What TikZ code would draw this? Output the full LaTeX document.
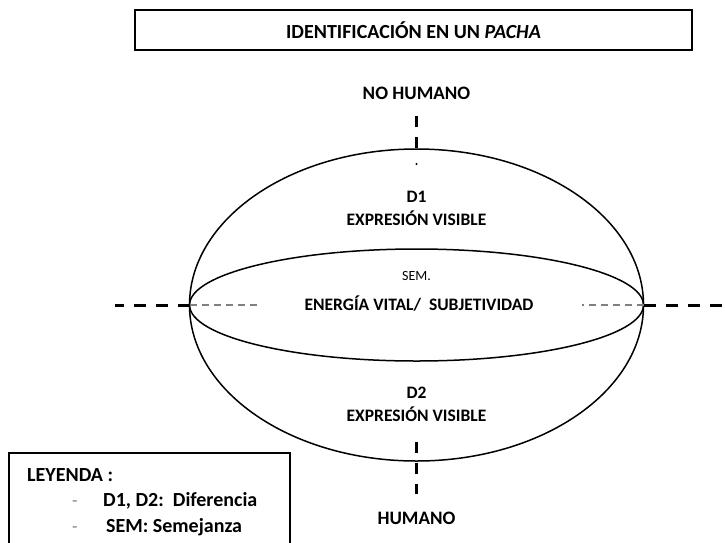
\documentclass[tikz,border=0pt]{standalone}
\usepackage{fontspec}
\setmainfont{Carlito}
\begin{document}
\begin{tikzpicture}[x=1pt,y=-1pt,
  lbl/.style={font=\fontsize{17.5}{19}\selectfont\bfseries, inner sep=0pt, align=center},
  ttl/.style={font=\fontsize{20}{22}\selectfont\bfseries, inner sep=0pt},
  leg/.style={font=\fontsize{20}{22}\selectfont\bfseries, inner sep=0pt, anchor=base west},
  thickdash/.style={line width=3pt, dash pattern=on 12pt off 10pt},
  thindash/.style={line width=1.4pt, gray, dash pattern=on 7pt off 5pt},
  vdash/.style={line width=2.6pt, dash pattern=on 11pt off 10pt},
  ell/.style={line width=1.5pt}]
\useasboundingbox (0,0) rectangle (725,542);
% title
\node[draw, line width=1.6pt, minimum width=557pt, minimum height=40pt, inner sep=0pt] (titlebox) at (413.5,30) {};
\node[ttl] (title) at (413.5,30) {IDENTIFICACIÓN EN UN \textit{PACHA}};
% ellipses
\coordinate (c) at (416.5,305);
\draw[ell] (c) ellipse [x radius=227, y radius=156];
\draw[ell] (c) ellipse [x radius=227, y radius=56];
\coordinate (L) at (189.5,305);
\coordinate (R) at (643.5,305);
\coordinate (Lfar) at (115,305);
\coordinate (Lin) at (258,305);
\coordinate (Rin) at (582,305);
\coordinate (Rfar) at (725,305);
\draw[thickdash] (L) -- (Lfar);
\draw[thindash] (L) -- (Lin);
\draw[thindash] (R) -- (Rin);
\draw[thickdash] (R) -- (Rfar);
% vertical axis
\coordinate (T1) at (416.5,116);
\coordinate (T2) at (416.5,153);
\coordinate (Tdot) at (416.5,164);
\draw[vdash] (T1) -- (T2);
\fill (Tdot) circle (1.2pt);
\coordinate (B1) at (416.5,442);
\coordinate (B2) at (416.5,494);
\draw[vdash] (B1) -- (B2);
% labels
\node[lbl, font=\fontsize{19}{21}\selectfont\bfseries] (nh) at (416.5,93) {NO HUMANO};
\node[lbl] (d1) at (416.5,197) {D1};
\node[lbl] (ev1) at (416.5,218) {EXPRESIÓN VISIBLE};
\node[lbl, font=\fontsize{14}{16}\selectfont] (sem) at (416.5,276) {SEM.};
\node[lbl] (ev) at (419,304) {ENERGÍA VITAL/\ \ SUBJETIVIDAD};
\node[lbl] (d2) at (416.5,393) {D2};
\node[lbl] (ev2) at (416.5,414) {EXPRESIÓN VISIBLE};
\node[lbl, font=\fontsize{19}{21}\selectfont\bfseries] (hu) at (416.5,518) {HUMANO};
% legend
\draw[line width=1.5pt] (9,546) -- (9,453) -- (290,453) -- (290,546);
\node[leg] (leyenda) at (27,481) {LEYENDA :};
\node[leg, font=\fontsize{18}{20}\selectfont, gray] (m1) at (72,506) {-};
\node[leg] (l1) at (103,506) {D1, D2:\ \ Diferencia};
\node[leg, font=\fontsize{18}{20}\selectfont, gray] (m2) at (72,532) {-};
\node[leg] (l2) at (106,532) {SEM: Semejanza};
\end{tikzpicture}
\end{document}
